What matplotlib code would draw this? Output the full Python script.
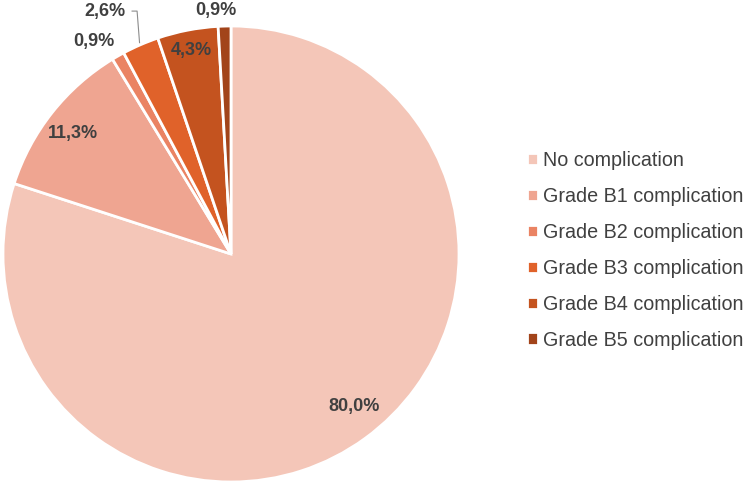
import numpy as np
import matplotlib
matplotlib.use("Agg")
import matplotlib.pyplot as plt

labels = ["No complication", "Grade B1 complication", "Grade B2 complication",
          "Grade B3 complication", "Grade B4 complication", "Grade B5 complication"]
values = [80.0, 11.3, 0.9, 2.6, 4.3, 0.9]
pct_text = ["80,0%", "11,3%", "0,9%", "2,6%", "4,3%", "0,9%"]
colors = ["#F4C6B8", "#EFA591", "#EA8363", "#E0622A", "#C4531F", "#A2441A"]

# radial position of each label (fraction of radius) and angle nudge
label_dist = [0.86, 0.87, 1.11, 1.20, 0.91, 1.07]
label_shift = [3, 1, 3, 4, 0, 2]

plt.rcParams['font.family'] = ['Liberation Sans', 'DejaVu Sans']

fig = plt.figure(figsize=(7.49, 4.86), dpi=100)
ax = fig.add_axes([0, 0, 1, 1])

cx, cy, R = 231, 232, 228
wedges, _ = ax.pie(values, colors=colors, startangle=90, counterclock=False,
                   center=(cx, cy), radius=R, frame=True,
                   wedgeprops=dict(edgecolor='white', linewidth=2))
ax.set_xlim(0, 749)
ax.set_ylim(0, 486)
ax.axis('off')

for i, w in enumerate(wedges):
    mid = np.deg2rad((w.theta1 + w.theta2) / 2 + label_shift[i])
    tx = cx + label_dist[i] * R * np.cos(mid)
    ty = cy + label_dist[i] * R * np.sin(mid)
    ax.text(tx, ty, pct_text[i], ha='center', va='center', fontsize=13,
            fontweight='bold', color='#404040')
    if pct_text[i] == "2,6%":
        m = np.deg2rad((w.theta1 + w.theta2) / 2)
        ex, ey = cx + 1.01 * R * np.cos(m), cy + 1.01 * R * np.sin(m)
        ax.plot([tx + 27, tx + 32, ex], [ty, ty, ey], color='#8C8C8C', lw=0.8)

leg = fig.legend(wedges, labels, loc='center left', bbox_to_anchor=(0.703, 0.485),
                 frameon=False, fontsize=14.2, handlelength=0.6, handleheight=0.6,
                 handletextpad=0.25, labelspacing=0.86, labelcolor='#404040',
                 borderpad=0, borderaxespad=0)

fig.savefig("out.png", dpi=100)
